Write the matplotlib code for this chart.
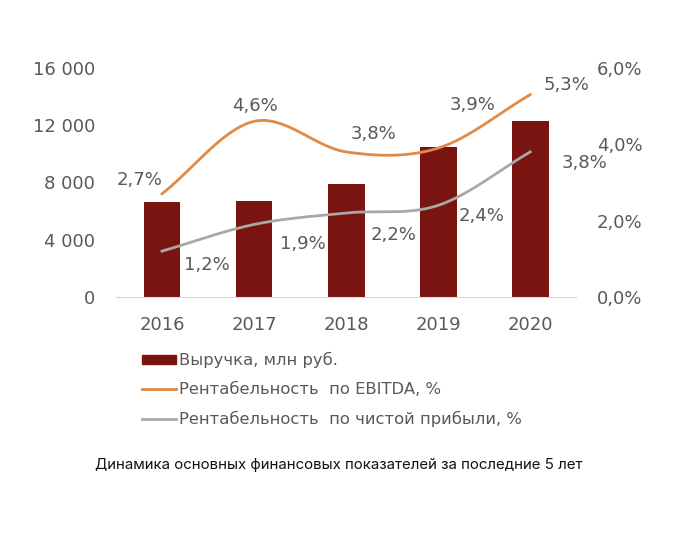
import numpy as np
import matplotlib
matplotlib.use("Agg")
import matplotlib.pyplot as plt
from matplotlib.patches import Patch
from matplotlib.lines import Line2D

plt.rcParams["font.family"] = ["DejaVu Sans"]

years = ["2016", "2017", "2018", "2019", "2020"]
revenue = [6600, 6700, 7900, 10500, 12300]
ebitda_margin = [2.7, 4.6, 3.8, 3.9, 5.3]
net_margin = [1.2, 1.9, 2.2, 2.4, 3.8]
ebitda_labels = ["2,7%", "4,6%", "3,8%", "3,9%", "5,3%"]
net_labels = ["1,2%", "1,9%", "2,2%", "2,4%", "3,8%"]
left_ticks = [0, 4000, 8000, 12000, 16000]
left_ticklabels = ["0", "4 000", "8 000", "12 000", "16 000"]
right_ticks = [0, 2, 4, 6]
right_ticklabels = ["0,0%", "2,0%", "4,0%", "6,0%"]
legend_labels = ["Выручка, млн руб.", "Рентабельность  по EBITDA, %",
                 "Рентабельность  по чистой прибыли, %"]
caption = "Динамика основных финансовых показателей за последние 5 лет"

BAR = "#7a1410"
ORANGE = "#e08a45"
GRAY = "#a8a8a8"
TXT = "#595959"


def smooth(xs, ys, n=40):
    # Catmull-Rom style smoothing (like Excel smoothed lines)
    xs = np.asarray(xs, float); ys = np.asarray(ys, float)
    px = np.concatenate([[2 * xs[0] - xs[1]], xs, [2 * xs[-1] - xs[-2]]])
    py = np.concatenate([[2 * ys[0] - ys[1]], ys, [2 * ys[-1] - ys[-2]]])
    ox, oy = [], []
    for i in range(1, len(px) - 2):
        p0, p1, p2, p3 = [np.array([px[j], py[j]]) for j in (i - 1, i, i + 1, i + 2)]
        c1 = p1 + (p2 - p0) / 6
        c2 = p2 - (p3 - p1) / 6
        t = np.linspace(0, 1, n)[:, None]
        pts = (1 - t) ** 3 * p1 + 3 * (1 - t) ** 2 * t * c1 + 3 * (1 - t) * t ** 2 * c2 + t ** 3 * p2
        ox.extend(pts[:, 0]); oy.extend(pts[:, 1])
    return np.array(ox), np.array(oy)


fig = plt.figure(figsize=(6.74, 5.39), dpi=100)
ax = fig.add_axes([0.172, 0.449, 0.683, 0.425])
x = np.arange(len(years))
ax.bar(x, revenue, width=0.4, color=BAR, zorder=2)
ax.set_xlim(-0.5, 4.5)
ax.set_ylim(0, 16000)
ax.set_yticks(left_ticks)
ax.set_yticklabels(left_ticklabels)
ax.set_xticks(x)
ax.set_xticklabels(years)
for s in ["top", "right", "left"]:
    ax.spines[s].set_visible(False)
ax.spines["bottom"].set_color("#d9d9d9")
ax.tick_params(axis="both", length=0, labelsize=13, labelcolor=TXT)
ax.tick_params(axis="y", pad=15)
ax.tick_params(axis="x", pad=13.5)

ax2 = ax.twinx()
ax2.set_ylim(0, 6)
ax2.set_yticks(right_ticks)
ax2.set_yticklabels(right_ticklabels)
for s in ["top", "right", "left", "bottom"]:
    ax2.spines[s].set_visible(False)
ax2.tick_params(axis="y", length=0, labelsize=13, labelcolor=TXT, pad=15)

sx, sy = smooth(x, ebitda_margin)
ax2.plot(sx, sy, color=ORANGE, lw=2, zorder=3)
gx, gy = smooth(x, net_margin)
ax2.plot(gx, gy, color=GRAY, lw=2, zorder=3)

e_off = [(-16, 10), (1, 11), (20, 13), (25, 31), (26, 7)]
n_off = [(32, -10), (35, -14), (34, -16), (31, -8), (39, -8)]
for i in range(len(years)):
    ax2.annotate(ebitda_labels[i], (x[i], ebitda_margin[i]), xytext=e_off[i],
                 textcoords="offset points", ha="center", va="center",
                 fontsize=13, color=TXT, zorder=4)
    ax2.annotate(net_labels[i], (x[i], net_margin[i]), xytext=n_off[i],
                 textcoords="offset points", ha="center", va="center",
                 fontsize=13, color=TXT, zorder=4)

handles = [Patch(facecolor=BAR, edgecolor=BAR),
           Line2D([0], [0], color=ORANGE, lw=2),
           Line2D([0], [0], color=GRAY, lw=2)]
fig.legend(handles, legend_labels, loc="upper left", bbox_to_anchor=(0.211, 0.347),
           frameon=False, fontsize=11.8, labelcolor=TXT, handlelength=2.07,
           handleheight=0.49, handletextpad=0.15, labelspacing=0.84, borderaxespad=0,
           borderpad=0)

fig.text(0.502, 0.137, caption, ha="center", va="center", fontsize=10.8,
         color="#111111", family=["Inter", "DejaVu Sans"])

fig.savefig("out.png", dpi=100, facecolor="white")
